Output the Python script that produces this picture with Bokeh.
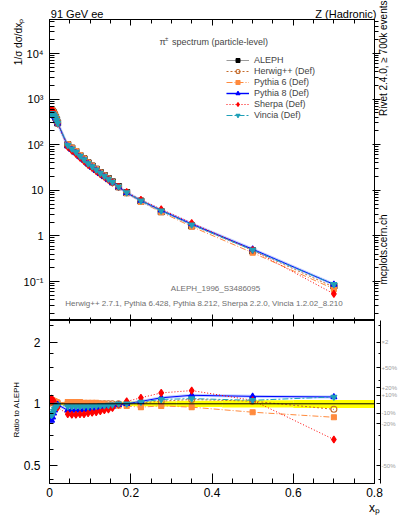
import json
import math
from bokeh.plotting import figure
from bokeh.models import (LogAxis, LinearAxis, FixedTicker, CustomJSTickFormatter,
                          Label, Legend, LegendItem, Range1d, Span)
from bokeh.layouts import column
from bokeh.embed import file_html
from bokeh.resources import INLINE

# ---------------- data ----------------
x_p = [0.0025, 0.005, 0.0075, 0.01, 0.0125, 0.015, 0.0175, 0.02,
       0.045, 0.055, 0.065, 0.075, 0.085, 0.095, 0.105, 0.115, 0.125, 0.135, 0.145, 0.155,
       0.17, 0.19, 0.225, 0.275, 0.35, 0.5, 0.7]
aleph = [530, 550, 540, 500, 450, 400, 350, 300,
         100, 84, 71, 58, 49, 40, 34, 29, 24.5, 21, 18, 15.3,
         12.0, 8.9, 5.8, 3.4, 1.66, 0.47, 0.08]
aleph_relerr = [0.015, 0.015, 0.015, 0.015, 0.015, 0.015, 0.015, 0.015,
                0.015, 0.015, 0.015, 0.015, 0.015, 0.015, 0.015, 0.018, 0.018, 0.018, 0.02, 0.02,
                0.022, 0.025, 0.028, 0.03, 0.035, 0.04, 0.045]
ratio_herwig = [1.01, 1.02, 1.02, 1.01, 1.01, 1.0, 1.0, 1.0,
                1.0, 1.0, 1.0, 1.0, 1.0, 1.0, 1.0, 1.0, 1.0, 1.0, 1.0, 1.0,
                1.0, 1.0, 1.01, 1.03, 1.05, 1.03, 0.94]
ratio_pythia6 = [1.03, 1.04, 1.04, 1.03, 1.03, 1.02, 1.02, 1.01,
                 1.02, 1.02, 1.02, 1.02, 1.01, 1.01, 1.01, 1.01, 1.0, 1.0, 0.99, 0.99,
                 0.98, 0.975, 0.963, 0.977, 0.963, 0.91, 0.86]
ratio_pythia8 = [0.84, 0.83, 0.86, 0.9, 0.93, 0.96, 0.98, 0.99,
                 0.93, 0.93, 0.93, 0.93, 0.935, 0.94, 0.94, 0.945, 0.95, 0.955, 0.96, 0.97,
                 0.99, 1.0, 1.027, 1.07, 1.10, 1.087, 1.08]
ratio_sherpa = [1.04, 1.06, 1.05, 1.03, 1.01, 0.99, 0.97, 0.96,
                0.89, 0.885, 0.885, 0.89, 0.89, 0.9, 0.905, 0.91, 0.92, 0.93, 0.94, 0.955,
                0.99, 1.027, 1.07, 1.13, 1.16, 1.04, 0.67]
ratio_vincia = [0.9, 0.88, 0.89, 0.92, 0.94, 0.96, 0.98, 0.99,
                0.97, 0.97, 0.97, 0.97, 0.97, 0.97, 0.975, 0.975, 0.98, 0.98, 0.985, 0.99,
                1.0, 1.0, 1.02, 1.05, 1.06, 1.04, 1.08]

mc_names = ["Herwig++ (Def)", "Pythia 6 (Def)", "Pythia 8 (Def)", "Sherpa (Def)", "Vincia (Def)"]
mc_ratios = [ratio_herwig, ratio_pythia6, ratio_pythia8, ratio_sherpa, ratio_vincia]

x_major_ticks = [0, 0.2, 0.4, 0.6, 0.8]
x_minor_ticks = [0.05, 0.1, 0.15, 0.25, 0.3, 0.35, 0.45, 0.5, 0.55, 0.65, 0.7, 0.75]
y_major_ticks = [0.1, 1, 10, 100, 1000, 10000]
ratio_major_ticks = [0.5, 1, 2]
ratio_minor_ticks = [0.43, 0.6, 0.7, 0.8, 0.9, 1.1, 1.3, 1.5, 1.75, 2.4]
pct_values = [2, 1.5, 1.2, 1.1, 0.9, 0.8, 0.5]
pct_texts = ["\u00d72", "+50%", "+20%", "+10%", "-10%", "-20%", "-50%"]

title_left = "91 GeV ee"
title_right = "Z (Hadronic)"
y_title = "1/\u03c3 d\u03c3/dx\u209a"
ratio_title = "Ratio to ALEPH"
x_title = "x\u209a"
rivet_text = "Rivet 2.4.0, \u2265 700k events"
mcplots_text = "mcplots.cern.ch"

# ---------------- styles ----------------
FONT = "Liberation Sans"
styles = [
    dict(color="#C46A2A", dash="2 2", marker="circle", fill=None, size=6),
    dict(color="#FF8A3D", dash="6 2 1 2", marker="square", fill="#FF8A3D", size=5),
    dict(color="#0000FF", dash="solid", marker="triangle", fill="#0000FF", size=6),
    dict(color="#FF0000", dash="1 2", marker="diamond", fill="#FF0000", size=7),
    dict(color="#1FA0B8", dash="6 2 2 2", marker="inverted_triangle", fill="#1FA0B8", size=6),
]

FW = 325
y_minor = [k * 10.0 ** e for e in range(-2, 5) for k in range(2, 10)]


def style_axis(ax, tin, tout, min_in, min_out, labels=True, size="12px", standoff=4):
    ax.major_tick_in = tin
    ax.major_tick_out = tout
    ax.minor_tick_in = min_in
    ax.minor_tick_out = min_out
    ax.axis_line_color = "black"
    ax.major_tick_line_color = "black"
    ax.minor_tick_line_color = "black"
    ax.major_label_text_font = FONT
    ax.major_label_text_color = "black"
    if labels:
        ax.major_label_text_font_size = size
        ax.major_label_standoff = standoff
    else:
        ax.formatter = CustomJSTickFormatter(code='return "";')
        ax.major_label_text_font_size = "0px"
        ax.major_label_standoff = 0


def text_axis(cls, ticks, texts, size, standoff, orientation="horizontal", color="black"):
    """An axis without line and ticks, used only to place outer texts."""
    ax = cls(ticker=FixedTicker(ticks=ticks, minor_ticks=[]),
             formatter=CustomJSTickFormatter(
                 args=dict(vals=ticks, txt=texts),
                 code="for (let i = 0; i < vals.length; i++) { if (Math.abs(vals[i] - tick) <= 1e-9 * Math.max(1, Math.abs(tick))) return txt[i]; } return '';"))
    ax.axis_line_color = None
    ax.major_tick_line_color = None
    ax.minor_tick_line_color = None
    ax.major_tick_in = 0
    ax.major_tick_out = 0
    ax.minor_tick_in = 0
    ax.minor_tick_out = 0
    ax.major_label_text_font = FONT
    ax.major_label_text_font_size = size
    ax.major_label_text_color = color
    ax.major_label_standoff = standoff
    ax.major_label_orientation = orientation
    return ax


def add_label(p, x, y, text, size, **kw):
    lab = Label(x=x, y=y, x_units="screen", y_units="screen", text=text,
                text_font=FONT, text_font_size=size, **kw)
    p.add_layout(lab)
    return lab


# ---------------- main panel ----------------
p1 = figure(frame_width=FW, frame_height=301, y_axis_type="log",
            x_range=Range1d(0, 0.8), y_range=Range1d(0.01396, 5.57e4),
            output_backend="svg", toolbar_location=None,
            min_border_left=49, min_border_right=25, min_border_top=19, min_border_bottom=0)
p1.grid.visible = False
p1.outline_line_color = "black"

bx = p1.xaxis[0]
bx.ticker = FixedTicker(ticks=x_major_ticks, minor_ticks=x_minor_ticks)
style_axis(bx, 6, 0, 3, 0, labels=False)
tx = LinearAxis(ticker=FixedTicker(ticks=x_major_ticks, minor_ticks=x_minor_ticks))
style_axis(tx, 6, 0, 4, 0, labels=False)
p1.add_layout(tx, "above")
p1.add_layout(text_axis(LinearAxis, [0.068, 0.7295], [title_left, title_right], "11px", 0), "above")

ly = p1.yaxis[0]
ly.ticker = FixedTicker(ticks=y_major_ticks, minor_ticks=y_minor)
ly.formatter = CustomJSTickFormatter(code="""
const e = Math.round(Math.log10(tick));
if (e == 0) return "1";
if (e == 1) return "10";
const s = {"-2": "\u207b\u00b2", "-1": "\u207b\u00b9", "2": "\u00b2", "3": "\u00b3", "4": "\u2074"};
return "10" + s[String(e)];
""")
style_axis(ly, 10, 0, 5, 0, labels=True, size="11px", standoff=6)
p1.add_layout(text_axis(LogAxis, [17890], [y_title], "10px", -4, orientation="parallel"), "left")

ry = LogAxis(ticker=FixedTicker(ticks=y_major_ticks, minor_ticks=y_minor))
style_axis(ry, 2, 6, 0, 4, labels=False)
p1.add_layout(ry, "right")
p1.add_layout(text_axis(LogAxis, [2760, 0.0861], [rivet_text, mcplots_text], "10px", 3,
                        orientation=math.pi / 2), "right")

# data
err_lo = [v * (1 - e) for v, e in zip(aleph, aleph_relerr)]
err_hi = [v * (1 + e) for v, e in zip(aleph, aleph_relerr)]
p1.segment(x0=x_p, y0=err_lo, x1=x_p, y1=err_hi, line_color="black", line_width=1)
aleph_leg_line = p1.line(x_p, aleph, line_color="#9a9a9a", line_width=1, visible=False)
aleph_pts = p1.scatter(x_p, aleph, marker="square", size=6, fill_color="black", line_color="black")

legend_items = [LegendItem(label="ALEPH", renderers=[aleph_leg_line, aleph_pts])]

for name, ratio, st in zip(mc_names, mc_ratios, styles):
    yv = [a * r for a, r in zip(aleph, ratio)]
    rends = []
    if name.startswith("Pythia 8"):
        rends.append(p1.line(x_p, yv, line_color="#7f9fff", line_width=3, line_alpha=0.5))
    rends.append(p1.line(x_p, yv, line_color=st["color"], line_width=1, line_dash=st["dash"]))
    rends.append(p1.scatter(x_p, yv, marker=st["marker"], size=st["size"],
                            line_color=st["color"], fill_color=st["fill"], line_width=1.1))
    legend_items.append(LegendItem(label=name, renderers=rends))

legend = Legend(items=legend_items, location=(177, 200), label_text_font=FONT,
                label_text_font_size="9px", glyph_width=23, glyph_height=10,
                label_height=10, spacing=1, padding=0, margin=0,
                border_line_color=None, background_fill_alpha=0, label_standoff=5)
p1.add_layout(legend)

# texts inside the main frame
add_label(p1, 110, 279, "\u03c0", "9px", text_baseline="middle")
add_label(p1, 115.5, 282, "\u00b1", "6px", text_baseline="middle")
add_label(p1, 122.5, 279, "spectrum (particle-level)", "9px", text_baseline="middle")
add_label(p1, 166, 32, "ALEPH_1996_S3486095", "8px", text_baseline="middle",
          text_align="center", text_color="#6e6e6e")
add_label(p1, 154.5, 17, "Herwig++ 2.7.1, Pythia 6.428, Pythia 8.212, Sherpa 2.2.0, Vincia 1.2.02_8.210",
          "8px", text_baseline="middle", text_align="center", text_color="#6e6e6e")

# ---------------- ratio panel ----------------
p2 = figure(frame_width=FW, frame_height=163, y_axis_type="log",
            x_range=p1.x_range, y_range=Range1d(0.409, 2.546),
            output_backend="svg", toolbar_location=None,
            min_border_left=49, min_border_right=25, min_border_top=0, min_border_bottom=36)
p2.grid.visible = False
p2.outline_line_color = "black"

bx2 = p2.xaxis[0]
bx2.ticker = FixedTicker(ticks=x_major_ticks, minor_ticks=x_minor_ticks)
bx2.formatter = CustomJSTickFormatter(code='return tick == 0 ? "0" : tick.toFixed(1);')
style_axis(bx2, 10, 0, 5, 0, labels=True, size="12px", standoff=4)
p2.add_layout(text_axis(LinearAxis, [0.8], [x_title], "12px", 1), "below")
tx2 = LinearAxis(ticker=FixedTicker(ticks=x_major_ticks, minor_ticks=x_minor_ticks))
style_axis(tx2, 6, 0, 3, 0, labels=False)
p2.add_layout(tx2, "above")

ly2 = p2.yaxis[0]
ly2.ticker = FixedTicker(ticks=ratio_major_ticks, minor_ticks=ratio_minor_ticks)
ly2.formatter = CustomJSTickFormatter(code="return String(tick);")
style_axis(ly2, 8, 0, 4, 0, labels=True, size="12px", standoff=9)
p2.add_layout(text_axis(LogAxis, [0.938], [ratio_title], "8px", -1, orientation="parallel"), "left")

ry2a = LogAxis(ticker=FixedTicker(ticks=ratio_major_ticks, minor_ticks=[]))
style_axis(ry2a, 0, 6, 0, 0, labels=False)
ry2a.major_tick_line_color = None
p2.add_layout(ry2a, "right")
ry2b = LogAxis(ticker=FixedTicker(ticks=pct_values + [1], minor_ticks=ratio_minor_ticks))
style_axis(ry2b, 4, 0, 2, 0, labels=True, size="6px", standoff=1)
ry2b.formatter = CustomJSTickFormatter(
    args=dict(vals=pct_values, txt=pct_texts),
    code="for (let i = 0; i < vals.length; i++) { if (Math.abs(vals[i] - tick) < 1e-9) return txt[i]; } return '';")
ry2b.major_label_text_color = "#9a9a9a"
p2.add_layout(ry2b, "right")

# yellow band of the data uncertainty
edges = [0.0] + [(a + b) / 2 for a, b in zip(x_p[:-1], x_p[1:])] + [0.8]
p2.quad(left=edges[:-1], right=edges[1:],
        bottom=[1 - e for e in aleph_relerr], top=[1 + e for e in aleph_relerr],
        fill_color="#FFFF00", line_color=None)
p2.add_layout(Span(location=1, dimension="width", line_color="black", line_width=1))

for name, ratio, st in zip(mc_names, mc_ratios, styles):
    if name.startswith("Pythia 8"):
        p2.line(x_p, ratio, line_color="#7f9fff", line_width=3, line_alpha=0.5)
    p2.line(x_p, ratio, line_color=st["color"], line_width=1, line_dash=st["dash"])
    p2.scatter(x_p, ratio, marker=st["marker"], size=st["size"],
               line_color=st["color"], fill_color=st["fill"], line_width=1.1)

layout = column(p1, p2, spacing=0)
open("out.html", "w").write(file_html(layout, INLINE))
